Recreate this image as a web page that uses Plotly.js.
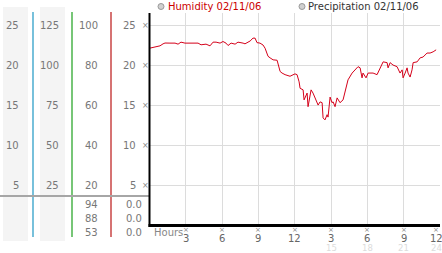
<!DOCTYPE html>
<html><head><meta charset="utf-8">
<script src="https://cdn.plot.ly/plotly-3.0.1.min.js"></script>
<style>html,body{margin:0;padding:0;background:#fff}#c{width:442px;height:253px}</style>
</head><body><div id="c"></div>
<script>
// ---- data ----
const hours = [0,0.29,0.45,0.87,1.12,1.28,1.69,2.11,2.36,2.6,2.93,3.18,3.51,4.01,4.26,4.42,4.67,5.0,5.25,5.5,5.83,6.07,6.32,6.49,6.74,7.07,7.31,7.73,7.89,8.31,8.55,8.72,8.88,9.13,9.38,9.55,9.71,9.79,9.96,10.21,10.54,10.62,10.79,10.95,11.2,11.61,12.02,12.19,12.36,12.44,12.69,12.77,13.02,13.1,13.35,13.51,13.68,13.93,14.09,14.26,14.34,14.5,14.67,14.75,14.92,15.08,15.17,15.33,15.5,15.58,15.74,15.99,16.16,16.4,16.74,16.98,17.23,17.4,17.56,17.64,17.89,18.06,18.47,18.8,19.05,19.3,19.63,19.71,19.88,20.12,20.45,20.7,20.87,20.95,21.12,21.28,21.36,21.53,21.69,21.78,22.11,22.36,22.6,22.93,23.18,23.43,23.68];
const humidity = [22.2,22.3,22.4,22.5,22.75,22.85,22.84,22.84,22.71,22.96,22.84,22.84,22.84,22.84,22.63,22.63,22.71,22.5,22.96,22.96,22.84,23.04,22.84,22.54,22.84,22.71,22.96,22.84,22.75,23.1,23.46,23.46,22.9,22.84,22.6,22.2,21.4,21.2,21.0,20.75,20.7,20.1,19.3,19.1,18.9,18.7,19.0,18.9,18.0,17.2,17.0,15.75,16.6,14.9,17.0,16.6,16.0,15.1,15.5,15.4,13.5,13.25,13.9,13.6,16.1,15.4,15.5,14.9,16.0,15.75,15.4,15.75,16.75,18.25,19.1,19.5,19.9,19.75,18.5,19.1,18.5,19.1,19.1,18.9,19.75,20.5,20.4,19.75,20.4,20.1,19.9,19.1,19.5,18.5,19.1,19.75,19.1,18.6,19.5,20.4,20.5,21.0,21.1,21.6,21.6,21.75,22.0];
const yTicks = [5,10,15,20,25];
const col1Labels = ['5','10','15','20','25'];
const col2Labels = ['25','50','75','100','125'];
const col3Labels = ['20','40','60','80','100'];
const col4Labels = ['5','10','15','20','25'];
const xTicks = [3,6,9,12,15,18,21,24];
const xTickLabels = ['3','6','9','12','3','6','9','12'];
const xTicks2 = [15,18,21,24];
const xTickLabels2 = ['15','18','21','24'];
const col3Bottom = ['94','88','53'];
const col4Bottom = ['0.0','0.0','0.0'];
const legendNames = ['Humidity 02/11/06','Precipitation 02/11/06'];

// ---- layout helpers (pixel -> paper) ----
const W=442,H=253;
const px=x=>x/W, py=y=>1-y/H;
const FONT='DejaVu Sans';
const MARK='×';
const ann=[];
const shapes=[];

// background columns
[[3,28],[40,65]].forEach(([a,b])=>shapes.push({type:'rect',xref:'paper',yref:'paper',x0:px(a),x1:px(b),y0:py(241),y1:py(7),fillcolor:'#f4f4f4',line:{width:0},layer:'below'}));
// coloured separators
[[33,'#2f9fc8'],[72,'#2ea82e'],[111,'#c02828']].forEach(([x,c])=>shapes.push({type:'line',xref:'paper',yref:'paper',x0:px(x),x1:px(x),y0:py(237),y1:py(12),line:{color:c,width:1.3}}));
// horizontal divider
shapes.push({type:'line',xref:'paper',yref:'paper',x0:0,x1:px(149),y0:py(196),y1:py(196),line:{color:'#a6a6a6',width:2.2}});

// left column labels
const cols=[[col1Labels,21],[col2Labels,61],[col3Labels,100],[col4Labels,138]];
cols.forEach(([labs,xr])=>labs.forEach((t,i)=>ann.push({xref:'paper',yref:'y',x:px(xr),y:yTicks[i],text:t,showarrow:false,xanchor:'right',yanchor:'middle',font:{family:FONT,size:10,color:'#777'}})));
yTicks.forEach(v=>ann.push({xref:'paper',yref:'y',x:px(145),y:v,text:MARK,showarrow:false,xanchor:'center',yanchor:'middle',font:{family:FONT,size:8,color:'#888'}}));
// bottom rows
[204,218,232].forEach((y,i)=>{
  ann.push({xref:'paper',yref:'paper',x:px(100),y:py(y),text:col3Bottom[i],showarrow:false,xanchor:'right',yanchor:'middle',font:{family:FONT,size:10,color:'#777'}});
  ann.push({xref:'paper',yref:'paper',x:px(144),y:py(y),text:col4Bottom[i],showarrow:false,xanchor:'right',yanchor:'middle',font:{family:FONT,size:10,color:'#777'}});
});
// x tick labels
ann.push({xref:'paper',yref:'paper',x:px(152),y:py(232),text:'Hours',showarrow:false,xanchor:'left',yanchor:'middle',font:{family:FONT,size:10,color:'#888'}});
xTicks.forEach((h,i)=>{
  const sh = h===24?-4:0;
  ann.push({xref:'x',yref:'paper',x:h,xshift:sh,y:py(230),text:MARK,showarrow:false,xanchor:'center',yanchor:'middle',font:{family:FONT,size:7,color:'#888'}});
  ann.push({xref:'x',yref:'paper',x:h,xshift:sh,y:py(238.5),text:xTickLabels[i],showarrow:false,xanchor:'center',yanchor:'middle',font:{family:FONT,size:10,color:'#666'}});
});
xTicks2.forEach((h,i)=>ann.push({xref:'x',yref:'paper',x:h,xshift:h===24?-4:0,y:py(248),text:xTickLabels2[i],showarrow:false,xanchor:'center',yanchor:'middle',font:{family:FONT,size:8.5,color:'#dcdcdc'}}));
// legend
[[161,166,'#cc0000',0],[302,306,'#333',1]].forEach(([cx,tx,c,i])=>{
  shapes.push({type:'circle',xref:'paper',yref:'paper',x0:px(cx-3),x1:px(cx+3),y0:py(9.5),y1:py(3.5),fillcolor:'#d0d0d0',line:{color:'#999',width:1}});
  ann.push({xref:'paper',yref:'paper',x:px(tx),y:py(6.5),text:legendNames[i],showarrow:false,xanchor:'left',yanchor:'middle',font:{family:FONT,size:10,color:c}});
});

const data=[{x:hours,y:humidity,type:'scatter',mode:'lines',line:{color:'#d4001a',width:1},hoverinfo:'skip',showlegend:false}];
const layout={
  width:W,height:H,margin:{l:0,r:0,t:0,b:0},paper_bgcolor:'#fff',plot_bgcolor:'#fff',showlegend:false,
  xaxis:{domain:[px(149.5),px(440)],range:[0,24],tick0:0,dtick:3,showgrid:true,gridcolor:'#dcdcdc',gridwidth:1,zeroline:false,showticklabels:false,ticks:'',showline:false},
  yaxis:{domain:[py(226),py(13)],range:[0,26.6],tick0:0,dtick:5,showgrid:true,gridcolor:'#dcdcdc',gridwidth:1,zeroline:false,showticklabels:false,ticks:'',showline:false},
  shapes:shapes.concat([
    {type:'line',xref:'paper',yref:'paper',x0:px(149.5),x1:px(149.5),y0:py(227),y1:py(13),line:{color:'#000',width:2}},
    {type:'line',xref:'paper',yref:'paper',x0:px(148.5),x1:px(440),y0:py(225.5),y1:py(225.5),line:{color:'#000',width:3}}
  ]),
  annotations:ann
};
Plotly.newPlot('c',data,layout,{staticPlot:true});
</script></body></html>
